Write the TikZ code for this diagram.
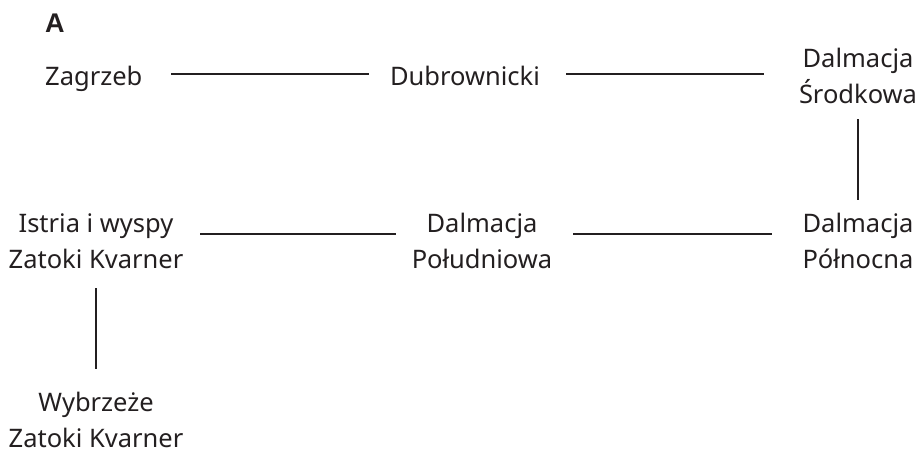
\documentclass[tikz,border=0pt]{standalone}
\usepackage{fontspec}
\setmainfont{Noto Sans}
\newfontfamily\headfont{Liberation Sans}
\definecolor{ink}{RGB}{35,31,32}
\begin{document}
\begin{tikzpicture}[x=1pt,y=-1pt,
  lbl/.style={inner sep=0pt, align=center, text=ink, font=\fontsize{25.5}{35.5}\selectfont},
  ttl/.style={inner sep=0pt, text=ink, font=\headfont\fontsize{27}{30}\selectfont\bfseries},
  conn/.style={draw=ink, line width=2.5pt}]
\useasboundingbox (0,0) rectangle (919,450);
\coordinate (r1) at (0,74);
\coordinate (r2) at (0,234);
\node[ttl, anchor=base west] (A) at (45,32) {A};
\node[lbl, anchor=base west] (zag) at (45,85) {Zagrzeb};
\node[lbl, anchor=base] (dub) at (465,85) {Dubrownicki};
\node[lbl, anchor=base] (dsr) at (858,103) {Dalmacja\\Środkowa};
\node[lbl, anchor=base] (ist) at (96,268) {Istria i wyspy\\Zatoki Kvarner};
\node[lbl, anchor=base] (dpd) at (482,268) {Dalmacja\\Południowa};
\node[lbl, anchor=base] (dpn) at (858,268) {Dalmacja\\Północna};
\node[lbl, anchor=base] (wyb) at (96,447) {Wybrzeże\\Zatoki Kvarner};
\draw[conn, shorten <=126pt, shorten >=96pt] (zag.base west |- r1) -- (dub.base |- r1);
\draw[conn, shorten <=101pt, shorten >=94pt] (dub.base |- r1) -- (dsr.base |- r1);
\draw[conn, shorten <=16pt, shorten >=68pt] (dsr.base) -- (dpn.base);
\draw[conn, shorten <=104pt, shorten >=86pt] (ist.base |- r2) -- (dpd.base |- r2);
\draw[conn, shorten <=91pt, shorten >=86pt] (dpd.base |- r2) -- (dpn.base |- r2);
\draw[conn, shorten <=20pt, shorten >=78pt] (ist.base) -- (wyb.base);
\end{tikzpicture}
\end{document}
